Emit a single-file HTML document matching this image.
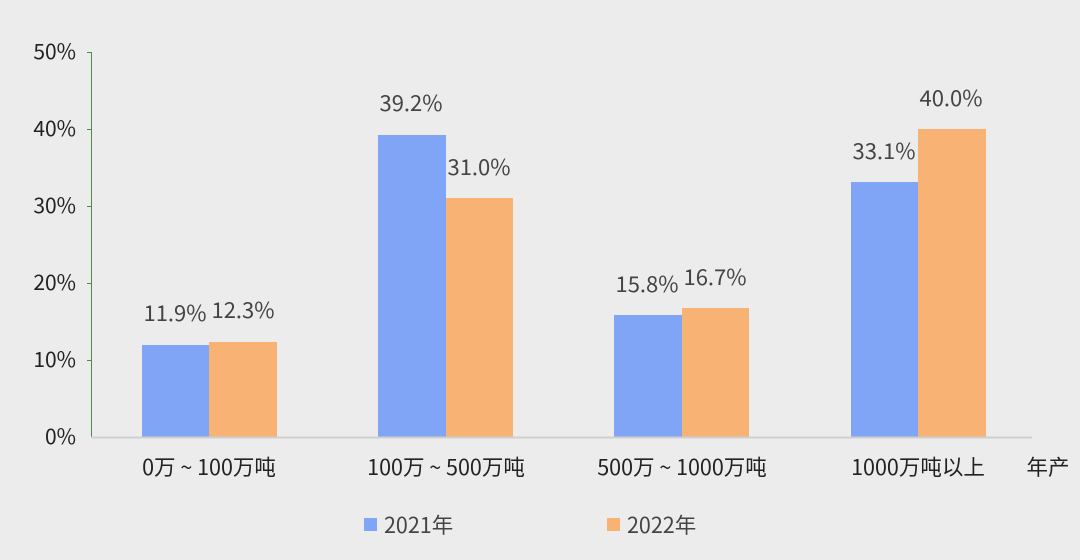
<!DOCTYPE html>
<html><head><meta charset="utf-8"><style>
body{margin:0;background:#ececec}
svg{display:block;font-family:"Noto Sans CJK SC","Liberation Sans",sans-serif}
</style></head><body>
<svg width="1080" height="560" viewBox="0 0 1080 560">
<rect width="1080" height="560" fill="#ececec"/>
<g font-size="21" fill="#222" text-anchor="end">
<text x="76" y="59">50%</text>
<text x="76" y="136">40%</text>
<text x="76" y="213">30%</text>
<text x="76" y="290">20%</text>
<text x="76" y="367">10%</text>
<text x="76" y="444">0%</text>
</g>
<line x1="91.5" y1="52" x2="91.5" y2="437" stroke="#4a8a4a" stroke-width="1"/>
<g stroke="#4a8a4a"><line x1="87" y1="52.5" x2="91" y2="52.5"/><line x1="87" y1="129.5" x2="91" y2="129.5"/><line x1="87" y1="206.5" x2="91" y2="206.5"/><line x1="87" y1="283.5" x2="91" y2="283.5"/><line x1="87" y1="360.5" x2="91" y2="360.5"/></g>
<g fill="#80a5f7">
<rect x="142" y="345" width="67" height="92"/>
<rect x="378" y="135" width="68" height="302"/>
<rect x="614" y="315" width="68" height="122"/>
<rect x="851" y="182" width="67" height="255"/>
</g>
<g fill="#f8b274">
<rect x="209" y="342" width="68" height="95"/>
<rect x="446" y="198" width="67" height="239"/>
<rect x="682" y="308" width="67" height="129"/>
<rect x="918" y="129" width="68" height="308"/>
</g>
<line x1="91" y1="437.5" x2="1032" y2="437.5" stroke="#cfcfcf" stroke-width="2"/>
<g font-size="22" fill="#444" text-anchor="middle">
<text x="175" y="321">11.9%</text>
<text x="243" y="318">12.3%</text>
<text x="411" y="111">39.2%</text>
<text x="479" y="175">31.0%</text>
<text x="647" y="292">15.8%</text>
<text x="715" y="285">16.7%</text>
<text x="884" y="159">33.1%</text>
<text x="951" y="106">40.0%</text>
</g>
<g font-size="21.5" fill="#222" text-anchor="middle">
<text x="209" y="475">0万 ~ 100万吨</text>
<text x="446" y="475">100万 ~ 500万吨</text>
<text x="682" y="475">500万 ~ 1000万吨</text>
<text x="918" y="475">1000万吨以上</text>
<text x="1048" y="475">年产</text>
</g>
<rect x="364" y="518" width="13" height="13" fill="#80a5f7"/>
<text x="384" y="533" font-size="21.5" fill="#444">2021年</text>
<rect x="607" y="518" width="13" height="13" fill="#f8b274"/>
<text x="627" y="533" font-size="21.5" fill="#444">2022年</text>
</svg>
</body></html>
